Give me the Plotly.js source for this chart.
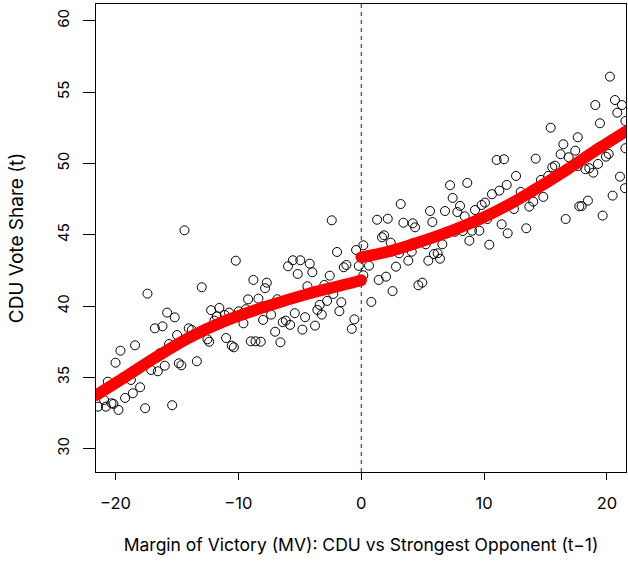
<!DOCTYPE html>
<html>
<head>
<meta charset="utf-8">
<script src="https://cdn.plot.ly/plotly-3.0.1.min.js"></script>
<style>html,body{margin:0;padding:0;background:#fff;}#chart{width:628px;height:562px;}</style>
</head>
<body>
<div id="chart"></div>
<script>
// Observed districts: margin of victory (t-1) and CDU vote share (t)
const mvObs = [
-14.39,-10.21,-17.40,-12.98,-8.78,-7.69,-7.83,-9.21,-8.37,-12.22,-11.55,-11.76,-11.11,-10.76,-9.97,-9.40,-9.59,-7.99,
-15.80,-15.18,-16.80,-16.18,-14.04,-13.79,-14.99,-15.64,-18.41,-19.60,-20.00,-20.63,-18.75,-18.00,-18.59,-19.22,-20.33,
-19.76,-20.93,-21.42,-20.79,-20.17,-17.59,-15.39,-17.10,-16.56,-15.99,-14.85,-14.64,-13.38,-16.40,-12.52,-12.38,-11.00,
-10.54,-10.37,-8.99,-8.61,-8.18,-11.95,-2.40,-0.42,-1.97,-0.20,-0.56,-0.77,-1.42,-1.21,-2.56,-3.00,-4.38,-2.27,-2.78,
-1.62,-1.78,-3.38,-3.57,-3.21,-3.76,-4.79,-4.57,-5.41,-5.96,-5.57,-4.96,-4.19,-3.98,-5.17,-6.83,-7.34,-6.39,-6.14,-5.79,
-7.01,-6.58,
0.17,1.29,2.16,1.69,1.86,2.40,0.63,0.17,1.42,2.02,0.82,2.55,11.02,11.62,8.63,7.23,7.44,8.04,7.82,8.42,9.26,9.80,10.07,
10.64,11.24,11.84,5.60,6.82,5.79,3.21,3.43,4.19,4.38,3.08,4.11,5.25,6.60,5.92,6.22,6.41,5.46,3.83,2.83,4.97,4.65,7.63,
8.26,9.02,9.61,8.80,10.42,10.26,11.43,11.92,20.24,20.65,21.22,20.84,19.05,19.43,21.50,15.42,17.62,16.45,17.42,16.23,
16.88,14.20,15.77,15.55,17.62,18.24,18.56,18.89,19.27,19.92,20.14,21.50,21.06,21.47,20.46,19.65,18.45,17.94,17.75,
16.64,14.82,14.63,15.22,14.00,13.68,12.43,12.98,12.60,13.43
];
const shareObs = [
45.31,43.18,40.87,41.32,41.83,41.64,41.25,40.47,40.52,39.71,39.87,39.28,39.38,39.54,39.63,39.78,38.79,39.03,
39.54,39.21,38.44,38.58,38.44,38.33,37.97,37.34,37.25,36.87,36.03,34.70,34.82,34.31,33.89,33.56,33.19,
32.72,33.42,32.95,32.95,33.14,32.84,33.05,35.52,35.43,35.82,35.99,35.85,36.13,36.69,37.67,37.50,37.76,
37.22,37.11,37.53,37.53,37.50,38.98,46.01,43.93,43.79,42.81,39.07,38.40,42.72,42.88,42.13,41.48,41.39,40.85,40.36,
40.27,39.64,40.08,39.73,39.40,38.63,38.35,39.22,39.50,42.79,43.21,43.21,42.97,42.37,42.25,40.48,39.40,38.87,38.98,38.68,
38.20,37.46,
44.26,46.05,46.12,44.82,44.96,44.44,42.83,42.16,41.83,42.06,40.29,41.05,50.24,50.29,48.63,48.47,47.58,47.02,46.59,46.29,46.73,47.08,47.25,
47.84,48.09,48.49,46.66,46.66,45.89,47.15,45.84,45.80,45.52,43.70,43.81,44.33,44.33,43.65,43.70,43.32,43.18,43.18,42.76,41.64,41.46,45.21,
45.26,45.28,45.28,44.58,44.30,46.10,45.73,45.10,56.08,54.44,54.09,53.55,54.09,52.81,52.97,52.50,51.83,51.34,50.89,50.64,
50.43,50.33,49.84,49.73,49.82,49.59,49.66,49.35,49.96,50.47,50.66,51.06,49.07,48.26,47.74,46.34,47.39,47.01,46.99,
46.10,47.65,48.84,49.12,47.32,46.97,46.80,48.00,49.12,45.45
];
// Fitted curve, left of the cutoff (MV < 0)
const fitLeftX = [-21.59,-19.36,-16.64,-13.93,-11.22,-7.8,-4.17,-0.10,0];
const fitLeftY = [33.75,34.95,36.45,37.82,38.91,39.95,40.90,41.78,41.82];
// Fitted curve, right of the cutoff (MV >= 0)
const fitRightX = [0,2.35,4.24,6.96,9.67,12.11,14.0,16.72,19.43,21.55];
const fitRightY = [43.42,43.85,44.35,45.15,46.10,47.15,48.10,49.55,51.10,52.25];
const xTicks = [-20,-10,0,10,20];
const xTickText = ['\u221220','\u221210','0','10','20'];
const yTicks = [30,35,40,45,50,55,60];

const fam = 'Inter, "Liberation Sans", Arial, sans-serif';
const xTickFont = {family: fam, size: 16.5, color: '#000'};
const yTickFont = {family: fam, size: 15, color: '#000'};
const xTitleFont = {family: fam, size: 17.5, color: '#000'};
const yTitleFont = {family: fam, size: 19, color: '#000'};

const traces = [
  {x: mvObs, y: shareObs, type: 'scatter', mode: 'markers',
   marker: {symbol: 'circle-open', size: 9, color: '#000', line: {width: 1, color: '#000'}}, hoverinfo: 'x+y'},
  {x: fitLeftX, y: fitLeftY, type: 'scatter', mode: 'lines+markers',
   line: {color: '#ff0000', width: 11.5, shape: 'spline'}, marker: {color: '#ff0000', size: 11.5}},
  {x: fitRightX, y: fitRightY, type: 'scatter', mode: 'lines+markers',
   line: {color: '#ff0000', width: 11.5, shape: 'spline'}, marker: {color: '#ff0000', size: 11.5}}
];

const layout = {
  width: 628, height: 562,
  margin: {l: 96, r: 2, t: 4, b: 90, pad: 0},
  paper_bgcolor: '#fff', plot_bgcolor: '#fff',
  showlegend: false,
  font: {family: fam, size: 16, color: '#000'},
  xaxis: {
    range: [-21.59, 21.55], tickvals: xTicks, ticktext: xTickText,
    showgrid: false, zeroline: false, showline: true, mirror: true,
    linecolor: '#000', linewidth: 1, ticks: 'outside', ticklen: 7, tickcolor: '#000', tickwidth: 1,
    ticklabelstandoff: 9,
    tickfont: xTickFont,
    title: {text: 'Margin of Victory (MV): CDU vs Strongest Opponent (t\u22121)', font: xTitleFont, standoff: 26}
  },
  yaxis: {
    range: [28.37, 61.17], tickvals: yTicks,
    showgrid: false, zeroline: false, showline: true, mirror: true,
    linecolor: '#000', linewidth: 1, ticks: 'outside', ticklen: 12, tickcolor: '#000', tickwidth: 1,
    tickangle: -90, ticklabelstandoff: 8,
    tickfont: yTickFont,
    title: {text: 'CDU Vote Share (t)', font: yTitleFont, standoff: 25}
  },
  shapes: [
    {type: 'line', xref: 'x', yref: 'paper', x0: 0, x1: 0, y0: 0, y1: 1, layer: 'below',
     line: {color: '#0000ff', width: 1, dash: '4px,4px'}}
  ]
};

Plotly.newPlot('chart', traces, layout, {staticPlot: true, displayModeBar: false});
</script>
</body>
</html>
